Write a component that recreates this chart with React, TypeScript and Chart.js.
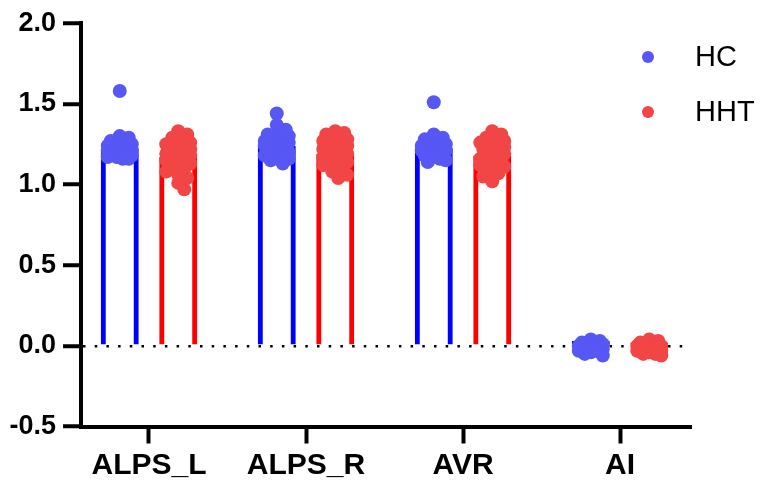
import { useEffect, useRef } from "react";
import { Chart, registerables, type ChartConfiguration, type Plugin } from "chart.js";

Chart.register(...registerables);

const categories = ["ALPS_L", "ALPS_R", "AVR", "AI"];
const groups = ["HC", "HHT"];

// group means (bar heights)
const hcMeans = [1.22, 1.24, 1.23, 0.03];
const hhtMeans = [1.17, 1.19, 1.18, 0.02];

// individual subjects
const hcAlpsL = [1.58, 1.3, 1.29, 1.27, 1.26, 1.25, 1.25, 1.24, 1.23, 1.23, 1.22, 1.22, 1.21, 1.21, 1.2, 1.2, 1.19, 1.19, 1.18, 1.18, 1.17, 1.17, 1.16, 1.16];
const hhtAlpsL = [1.33, 1.31, 1.29, 1.27, 1.26, 1.25, 1.24, 1.23, 1.22, 1.22, 1.21, 1.2, 1.2, 1.19, 1.18, 1.18, 1.17, 1.16, 1.15, 1.14, 1.13, 1.12, 1.1, 1.08, 1.06, 1.04, 1.01, 0.97];
const hcAlpsR = [1.44, 1.37, 1.34, 1.32, 1.31, 1.3, 1.29, 1.28, 1.27, 1.26, 1.25, 1.24, 1.24, 1.23, 1.22, 1.21, 1.2, 1.2, 1.19, 1.18, 1.17, 1.16, 1.15, 1.13];
const hhtAlpsR = [1.33, 1.32, 1.31, 1.3, 1.29, 1.28, 1.27, 1.26, 1.25, 1.24, 1.23, 1.22, 1.21, 1.2, 1.19, 1.18, 1.17, 1.16, 1.15, 1.14, 1.13, 1.12, 1.1, 1.08, 1.06, 1.04];
const hcAvr = [1.51, 1.31, 1.29, 1.28, 1.27, 1.26, 1.25, 1.24, 1.23, 1.23, 1.22, 1.21, 1.21, 1.2, 1.2, 1.19, 1.18, 1.17, 1.16, 1.15, 1.14];
const hhtAvr = [1.33, 1.31, 1.29, 1.28, 1.27, 1.26, 1.25, 1.24, 1.23, 1.22, 1.21, 1.2, 1.19, 1.18, 1.17, 1.16, 1.15, 1.14, 1.13, 1.12, 1.11, 1.09, 1.07, 1.05, 1.02];
const hcAi = [0.04, 0.03, 0.02, 0.02, 0.01, 0.01, 0.0, 0.0, 0.0, -0.01, -0.01, -0.02, -0.02, -0.03, -0.03, -0.04, -0.05, -0.06];
const hhtAi = [0.04, 0.03, 0.02, 0.01, 0.01, 0.0, 0.0, -0.01, -0.01, -0.02, -0.02, -0.03, -0.03, -0.04, -0.05, -0.05, -0.06];

const hcValues = [hcAlpsL, hcAlpsR, hcAvr, hcAi];
const hhtValues = [hhtAlpsL, hhtAlpsR, hhtAvr, hhtAi];

const BAR_BLUE = "#0000ff";
const BAR_RED = "#ff0000";
const DOT_BLUE = "#5757f6";
const DOT_RED = "#f24545";
const FONT = "'Liberation Sans', Arial, Helvetica, sans-serif";

const CAT_PCT = 0.745;
const BAR_PCT = 0.65;
const GROUP_SHIFT = CAT_PCT / 4;
const PX_X = 157; // pixels per category
const PX_Y = 163; // pixels per unit
const DOT_R = 7;

// simple beeswarm so overlapping points spread sideways
function swarm(values: number[]): number[] {
  const placed: { x: number; y: number }[] = [];
  const cands = [0, 3, -3, 6, -6, 9, -9, 12, -12];
  return values.map((v) => {
    const y = v * PX_Y;
    let best = 0;
    let bestD = -1;
    for (const c of cands) {
      let d = Infinity;
      placed.forEach((p) => {
        d = Math.min(d, Math.hypot(p.x - c, p.y - y));
      });
      if (d >= 8) {
        best = c;
        break;
      }
      if (d > bestD) {
        bestD = d;
        best = c;
      }
    }
    placed.push({ x: best, y });
    return best / PX_X;
  });
}

function points(sets: number[][], shift: number) {
  return sets.flatMap((vals, i) => {
    const jit = swarm(vals);
    return vals.map((v, j) => ({ x: i + shift + jit[j], y: v }));
  });
}

const legendPlugin: Plugin = {
  id: "sideLegend",
  afterDraw(chart) {
    const { ctx } = chart;
    const colors = [DOT_BLUE, DOT_RED];
    ctx.save();
    ctx.font = `29px ${FONT}`;
    ctx.textBaseline = "middle";
    groups.forEach((g, i) => {
      const y = 57 + i * 55;
      ctx.fillStyle = colors[i];
      ctx.beginPath();
      ctx.arc(648, y, 6, 0, Math.PI * 2);
      ctx.fill();
      ctx.fillStyle = "#000";
      ctx.fillText(g, 695, y + 1);
    });
    ctx.restore();
  },
};

export default function App() {
  const canvasRef = useRef<HTMLCanvasElement>(null);
  const chartRef = useRef<Chart | null>(null);

  useEffect(() => {
    const canvas = canvasRef.current;
    if (!canvas) {
      return;
    }
    if (chartRef.current) {
      chartRef.current.destroy();
    }

    const config: ChartConfiguration = {
      type: "bar",
      data: {
        datasets: [
          {
            type: "scatter",
            label: "HC",
            data: points(hcValues, -GROUP_SHIFT),
            backgroundColor: DOT_BLUE,
            borderWidth: 0,
            pointRadius: DOT_R,
            pointHoverRadius: DOT_R,
            order: 0,
          },
          {
            type: "scatter",
            label: "HHT",
            data: points(hhtValues, GROUP_SHIFT),
            backgroundColor: DOT_RED,
            borderWidth: 0,
            pointRadius: DOT_R,
            pointHoverRadius: DOT_R,
            order: 0,
          },
          {
            type: "bar",
            label: "HC mean",
            data: hcMeans.map((m, i) => ({ x: i, y: m })),
            backgroundColor: "rgba(255,255,255,0)",
            borderColor: BAR_BLUE,
            borderWidth: 5,
            categoryPercentage: CAT_PCT,
            barPercentage: BAR_PCT,
            order: 1,
          },
          {
            type: "bar",
            label: "HHT mean",
            data: hhtMeans.map((m, i) => ({ x: i, y: m })),
            backgroundColor: "rgba(255,255,255,0)",
            borderColor: BAR_RED,
            borderWidth: 5,
            categoryPercentage: CAT_PCT,
            barPercentage: BAR_PCT,
            order: 1,
          },
        ],
      } as any,
      options: {
        animation: false,
        responsive: true,
        maintainAspectRatio: false,
        events: [],
        layout: { padding: { top: 19, right: 76, bottom: 0, left: 0 } },
        plugins: {
          legend: { display: false },
          tooltip: { enabled: false },
        },
        scales: {
          x: {
            type: "linear",
            min: -0.433,
            max: 3.452,
            offset: false,
            afterBuildTicks: (scale) => {
              scale.ticks = categories.map((_, i) => ({ value: i }));
            },
            afterFit: (scale) => {
              scale.height = 65.5;
            },
            ticks: {
              autoSkip: false,
              maxRotation: 0,
              padding: 4,
              color: "#000",
              font: { family: FONT, size: 30, weight: "bold" },
              callback: (v) => categories[Number(v)] ?? "",
            },
            grid: {
              offset: false,
              drawOnChartArea: false,
              drawTicks: true,
              tickLength: 17,
              tickWidth: 4,
              tickColor: "#000",
            },
            border: { color: "#000", width: 4 },
          },
          y: {
            type: "linear",
            min: -0.5,
            max: 2,
            afterFit: (scale) => {
              scale.width = 81;
            },
            ticks: {
              stepSize: 0.5,
              padding: 7,
              color: "#000",
              font: { family: FONT, size: 27, weight: "bold" },
              callback: (v) => Number(v).toFixed(1),
            },
            grid: {
              color: (c) => (c.tick && c.tick.value === 0 ? "#000" : "rgba(0,0,0,0)"),
              lineWidth: 2.5,
              drawTicks: true,
              tickLength: 18,
              tickWidth: 4,
              tickColor: "#000",
            },
            border: { color: "#000", width: 4, dash: [2.5, 9.2] },
          },
        },
      },
      plugins: [legendPlugin],
    };

    chartRef.current = new Chart(canvas, config);

    return () => {
      chartRef.current?.destroy();
      chartRef.current = null;
    };
  }, []);

  return (
    <div style={{ position: "absolute", left: 0, top: 0, width: 767, height: 492, background: "#fff" }}>
      <canvas ref={canvasRef} />
    </div>
  );
}
